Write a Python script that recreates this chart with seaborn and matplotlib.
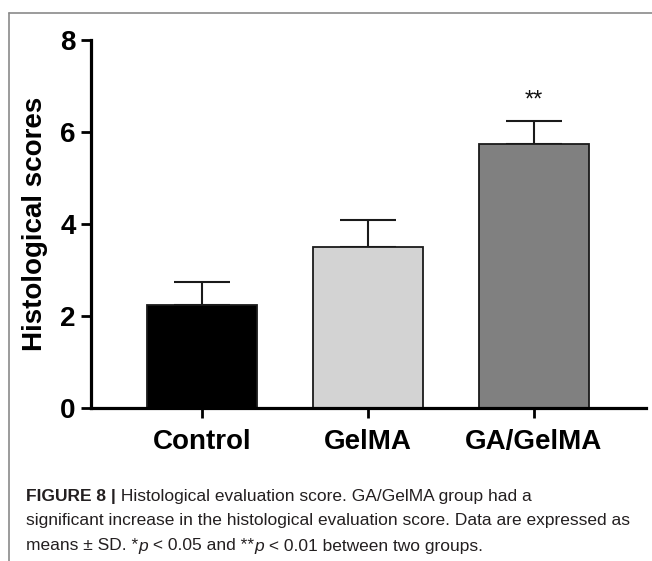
import matplotlib
matplotlib.use("Agg")
import matplotlib.pyplot as plt
import seaborn as sns
import pandas as pd
import numpy as np
from matplotlib.lines import Line2D

categories = ["Control", "GelMA", "GA/GelMA"]
means = [2.25, 3.5, 5.75]
sds = [0.5, 0.58, 0.5]
colors = ["#000000", "#d3d3d3", "#808080"]
yticks = [0, 2, 4, 6, 8]
annot = ["", "", "**"]

sns.set_theme(style="white")
plt.rcParams['font.family'] = ['Liberation Sans', 'DejaVu Sans']
plt.rcParams.update({"text.color": "black", "axes.labelcolor": "black",
                     "xtick.color": "black", "ytick.color": "black"})

W, H = 652, 561
fig = plt.figure(figsize=(W / 100, H / 100), dpi=100)
ax = fig.add_axes([91 / W, 1 - 408 / H, (646 - 91) / W, (408 - 40) / H])

df = pd.DataFrame({"group": categories, "score": means})
sns.barplot(data=df, x="group", y="score", hue="group", palette=colors,
            width=0.66, edgecolor="#1a1a1a", linewidth=1.3, legend=False,
            errorbar=None, ax=ax, zorder=2)
x = np.arange(len(categories))
ax.errorbar(x, means, yerr=[np.zeros(len(sds)), sds], fmt="none",
            ecolor="#1a1a1a", elinewidth=1.5, capsize=20, capthick=1.5, zorder=1)
for xi, m, s, a in zip(x, means, sds, annot):
    if a:
        ax.text(xi, m + s + 0.2, a, ha="center", va="bottom", fontsize=17,
                color="#111111")

ax.set_xlim(-0.669, 2.675)
ax.set_ylim(0, 8)
ax.set_yticks(yticks)
ax.set_yticklabels([str(t) for t in yticks], fontsize=20, fontweight="bold")
ax.set_xticks(x)
ax.set_xticklabels(categories, fontsize=20, fontweight="bold")
ax.set_xlabel("")
ax.set_ylabel("Histological scores", fontsize=20, fontweight="bold", labelpad=9)
for side in ["top", "right"]:
    ax.spines[side].set_visible(False)
for side in ["left", "bottom"]:
    ax.spines[side].set_linewidth(2.3)
    ax.spines[side].set_color("black")
ax.tick_params(axis="both", which="major", length=7, width=2.0, color="black",
               labelcolor="black", direction="out", pad=4, bottom=True, left=True)
ax.tick_params(axis="x", pad=8)

# frame lines
fig.add_artist(Line2D([9 / W, 1], [1 - 13 / H, 1 - 13 / H], color="#8a8a8a", lw=1.2,
                      transform=fig.transFigure))
fig.add_artist(Line2D([9 / W, 9 / W], [0, 1 - 13 / H], color="#8a8a8a", lw=1.2,
                      transform=fig.transFigure))

# caption
cap_lines = [
    [("FIGURE 8 |", "bold", "normal"), (" Histological evaluation score. GA/GelMA group had a", "normal", "normal")],
    [("significant increase in the histological evaluation score. Data are expressed as", "normal", "normal")],
    [("means ± SD. *", "normal", "normal"), ("p", "normal", "italic"),
     (" < 0.05 and **", "normal", "normal"), ("p", "normal", "italic"),
     (" < 0.01 between two groups.", "normal", "normal")],
]
cap_y = [496, 521, 546]
fig.canvas.draw()
renderer = fig.canvas.get_renderer()
cs = 12.5
for line, yy in zip(cap_lines, cap_y):
    xp = 26
    for txt, wt, st in line:
        t = fig.text(xp / W, 1 - yy / H, txt, fontsize=cs, fontweight=wt, fontstyle=st,
                     color="#231f20", va="center", ha="left")
        bb = t.get_window_extent(renderer=renderer)
        xp += bb.width

fig.savefig("out.png", dpi=100)
